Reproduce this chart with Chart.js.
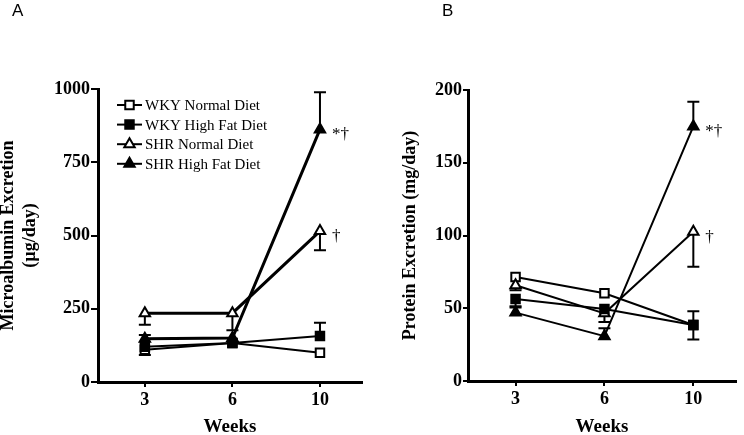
<!DOCTYPE html>
<html><head><meta charset="utf-8">
<script src="https://cdn.jsdelivr.net/npm/chart.js@4.4.0/dist/chart.umd.min.js"></script>
<style>
html,body{margin:0;padding:0;background:#fff;}
#wrap{position:relative;width:744px;height:435px;overflow:hidden;background:#fff;}
.box{position:absolute;top:0;height:435px;width:372px;}
</style></head><body>
<div id="wrap">
<div class="box" style="left:0"><canvas id="cA" width="372" height="435"></canvas></div>
<div class="box" style="left:372px"><canvas id="cB" width="372" height="435"></canvas></div>
</div>
<script>
// ---- data ----
const weeks = ['3', '6', '10'];
const seriesNames = ['WKY Normal Diet', 'WKY High Fat Diet', 'SHR Normal Diet', 'SHR High Fat Diet'];

// Panel A: Microalbumin excretion (µg/day)
const albWkyNormal  = [110, 133, 100];
const albWkyHighFat = [120, 133, 157];
const albShrNormal  = [235, 235, 515];
const albShrHighFat = [148, 150, 862];
// SEM (signed: + drawn upward, - drawn downward)
const albWkyNormalErr  = [-18, 0, 0];
const albWkyHighFatErr = [0, 0, 45];
const albShrNormalErr  = [-40, -58, -65];
const albShrHighFatErr = [12, 0, 127];
const albTicks = [0, 250, 500, 750, 1000];

// Panel B: Protein excretion (mg/day)
const protWkyNormal  = [71.5, 60.3, 38.5];
const protWkyHighFat = [56.3, 49.5, 38.5];
const protShrNormal  = [65.8, 46.5, 102.6];
const protShrHighFat = [47, 30.8, 175];
const protWkyNormalErr  = [0, 0, -10];
const protWkyHighFatErr = [-5, 0, 9.5];
const protShrNormalErr  = [-3.5, -6, -24];
const protShrHighFatErr = [3.5, 5.5, 17];
const protTicks = [0, 50, 100, 150, 200];

// significance marks at week 10
const annotations = ['', '', '†', '*†'];

// ---- styles ----
const styles = [
  {pointStyle: 'rect', fill: '#fff', order: 3},
  {pointStyle: 'rect', fill: '#000', order: 1},
  {pointStyle: 'triangle', fill: '#fff', order: 2},
  {pointStyle: 'triangle', fill: '#000', order: 0}
];
const SERIF = "'Liberation Serif', 'Times New Roman', serif";

function drawMarker(ctx, style, fill, x, y, r) {
  ctx.save();
  ctx.beginPath();
  if (style === 'rect') {
    const h = r * Math.SQRT1_2;
    ctx.rect(x - h, y - h, 2 * h, 2 * h);
  } else {
    ctx.moveTo(x, y - r);
    ctx.lineTo(x + Math.sin(2 * Math.PI / 3) * r, y - Math.cos(2 * Math.PI / 3) * r);
    ctx.lineTo(x + Math.sin(4 * Math.PI / 3) * r, y - Math.cos(4 * Math.PI / 3) * r);
    ctx.closePath();
  }
  ctx.fillStyle = fill;
  ctx.fill();
  ctx.lineWidth = 2;
  ctx.strokeStyle = '#000';
  ctx.stroke();
  ctx.restore();
}

const errorBarPlugin = {
  id: 'errorBars',
  beforeDatasetsDraw(chart) {
    const ctx = chart.ctx, xs = chart.scales.x, ys = chart.scales.y;
    ctx.save();
    ctx.strokeStyle = '#000';
    ctx.lineWidth = 2;
    chart.data.datasets.forEach(ds => {
      (ds.errors || []).forEach((e, j) => {
        if (!e) return;
        const v = ds.data[j].y;
        const px = xs.getPixelForValue(j);
        const p0 = ys.getPixelForValue(v);
        const p1 = ys.getPixelForValue(v + e);
        ctx.beginPath();
        ctx.moveTo(px, p0); ctx.lineTo(px, p1);
        ctx.moveTo(px - 6, p1); ctx.lineTo(px + 6, p1);
        ctx.stroke();
      });
    });
    ctx.restore();
  },
  afterDatasetsDraw(chart) {
    const ctx = chart.ctx, xs = chart.scales.x, ys = chart.scales.y;
    ctx.save();
    ctx.fillStyle = '#000';
    ctx.font = '17px ' + SERIF;
    ctx.textAlign = 'left';
    ctx.textBaseline = 'alphabetic';
    chart.data.datasets.forEach(ds => {
      if (!ds.annot) return;
      const j = ds.data.length - 1;
      const px = xs.getPixelForValue(j);
      const py = ys.getPixelForValue(ds.data[j].y);
      ctx.fillText(ds.annot, px + 12, py + 10);
    });
    ctx.restore();
  }
};

const extrasPlugin = {
  id: 'extras',
  afterDraw(chart, args, opts) {
    const ctx = chart.ctx;
    ctx.save();
    ctx.fillStyle = '#000';
    ctx.font = "17px 'Liberation Sans', Arial, sans-serif";
    ctx.textBaseline = 'alphabetic';
    ctx.textAlign = 'left';
    ctx.fillText(opts.panel, opts.panelX, opts.panelY);
    if (opts.legend) {
      const L = opts.legend;
      ctx.font = '15px ' + SERIF;
      ctx.textBaseline = 'middle';
      chart.data.datasets.forEach((ds, i) => {
        const y = L.y + i * L.dy;
        ctx.beginPath();
        ctx.lineWidth = 2;
        ctx.strokeStyle = '#000';
        ctx.moveTo(L.x, y); ctx.lineTo(L.x + L.len, y);
        ctx.stroke();
        drawMarker(ctx, ds.pointStyle, ds.pointBackgroundColor, L.x + L.len / 2, y, 6);
        ctx.fillStyle = '#000';
        ctx.fillText(ds.label, L.textX, y + 1);
      });
    }
    ctx.restore();
  }
};

function buildDatasets(valueLists, errLists, widths) {
  return valueLists.map((vals, i) => ({
    label: seriesNames[i],
    data: vals.map((v, j) => ({x: j, y: v})),
    errors: errLists[i],
    annot: annotations[i],
    borderColor: '#000',
    borderWidth: widths[i],
    pointStyle: styles[i].pointStyle,
    pointRadius: 6,
    pointBackgroundColor: styles[i].fill,
    pointBorderColor: '#000',
    pointBorderWidth: 2,
    fill: false,
    tension: 0,
    order: styles[i].order,
    clip: false
  }));
}

function makeChart(id, cfg) {
  const tickFont = {family: SERIF, size: 18, weight: 'bold'};
  return new Chart(document.getElementById(id), {
    type: 'line',
    data: {datasets: cfg.datasets},
    plugins: [errorBarPlugin, extrasPlugin],
    options: {
      responsive: false,
      animation: false,
      devicePixelRatio: 1,
      events: [],
      layout: {padding: cfg.padding},
      plugins: {
        legend: {display: false},
        tooltip: {enabled: false},
        extras: cfg.extras
      },
      scales: {
        x: {
          type: 'linear', min: -0.535, max: 2.48,
          afterBuildTicks: s => { s.ticks = weeks.map((w, i) => ({value: i})); },
          afterFit: s => { s.height = cfg.xHeight; },
          ticks: {callback: v => weeks[v], font: tickFont, color: '#000', padding: 3, autoSkip: false, maxRotation: 0},
          grid: {display: true, drawOnChartArea: false, drawTicks: true, tickLength: 5, lineWidth: 2, color: '#000'},
          border: {display: true, width: 3, color: '#000'},
          title: {display: true, text: 'Weeks', color: '#000', font: {family: SERIF, size: 19, weight: 'bold'}, padding: {top: 0, bottom: -3}}
        },
        y: {
          type: 'linear', min: cfg.yTicks[0], max: cfg.yTicks[cfg.yTicks.length - 1],
          afterBuildTicks: s => { s.ticks = cfg.yTicks.map(v => ({value: v})); },
          afterFit: s => { s.width = cfg.yWidth; },
          ticks: {callback: v => String(v), font: tickFont, color: '#000', padding: 1},
          grid: {display: true, drawOnChartArea: false, drawTicks: true, tickLength: cfg.yTickLen, lineWidth: 2, color: '#000'},
          border: {display: true, width: 3, color: '#000'},
          title: {display: true, text: cfg.yTitle, color: '#000', font: {family: SERIF, size: 18, weight: 'bold'}, padding: {top: cfg.yTitlePad}}
        }
      }
    }
  });
}

makeChart('cA', {
  datasets: buildDatasets(
    [albWkyNormal, albWkyHighFat, albShrNormal, albShrHighFat],
    [albWkyNormalErr, albWkyHighFatErr, albShrNormalErr, albShrHighFatErr],
    [2, 2, 3, 3]),
  yTicks: albTicks,
  yTitle: ['Microalbumin Excretion', '(µg/day)'],
  yTitlePad: -2,
  yWidth: 98,
  yTickLen: 7,
  xHeight: 53,
  padding: {top: 89, right: 10, left: 0, bottom: 0},
  extras: {panel: 'A', panelX: 12, panelY: 16,
    legend: {x: 117, y: 105, dy: 19.6, len: 25, textX: 145}}
});

makeChart('cB', {
  datasets: buildDatasets(
    [protWkyNormal, protWkyHighFat, protShrNormal, protShrHighFat],
    [protWkyNormalErr, protWkyHighFatErr, protShrNormalErr, protShrHighFatErr],
    [2, 2, 2, 2]),
  yTicks: protTicks,
  yTitle: 'Protein Excretion (mg/day)',
  yTitlePad: 28,
  yWidth: 96,
  yTickLen: 5,
  xHeight: 54,
  padding: {top: 90, right: 0, left: 0, bottom: 0},
  extras: {panel: 'B', panelX: 70, panelY: 16, legend: null}
});
</script>
</body></html>
